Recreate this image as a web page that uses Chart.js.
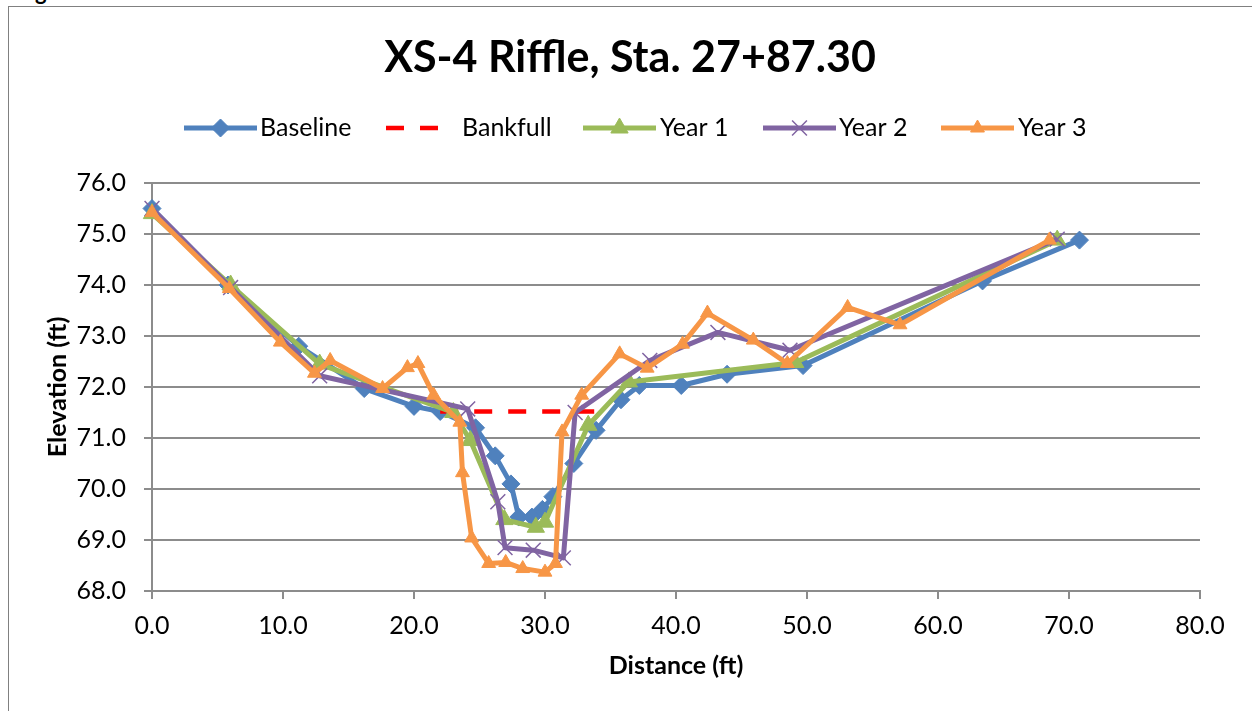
<!DOCTYPE html>
<html>
<head>
<meta charset="utf-8">
<script src="https://cdn.jsdelivr.net/npm/chart.js"></script>
<style>
  html, body { margin: 0; padding: 0; background: #fff; overflow: hidden; }
  #wrap { position: relative; width: 1252px; height: 711px; overflow: hidden; }
  #fig { position: absolute; left: 17px; top: -22px; font: bold 22px Lato, sans-serif; color: #000; }
  #frame { position: absolute; left: 8px; top: 6px; width: 1400px; height: 900px; border: 1px solid #808080; }
  canvas { position: absolute; left: 0; top: 0; }
</style>
</head>
<body>
<div id="wrap">
  <div id="fig">Figure 4</div>
  <div id="frame"></div>
  <canvas id="chart" width="1252" height="711"></canvas>
</div>
<script>
const chartTitle = 'XS-4 Riffle, Sta. 27+87.30';
const seriesNames = ['Baseline', 'Bankfull', 'Year 1', 'Year 2', 'Year 3'];
const xTicks = [0, 10, 20, 30, 40, 50, 60, 70, 80];
const yTicks = [68, 69, 70, 71, 72, 73, 74, 75, 76];

// distance (ft) / elevation (ft)
const baselineX = [0, 5.8, 11.2, 16.2, 20.0, 22.0, 24.7, 26.2, 27.4, 28.0, 29.0, 29.8, 30.6, 32.2, 33.9, 35.8, 37.2, 40.4, 43.9, 49.7, 63.4, 70.8];
const baselineY = [75.5, 74.0, 72.8, 71.97, 71.62, 71.52, 71.2, 70.65, 70.1, 69.45, 69.45, 69.6, 69.85, 70.5, 71.15, 71.75, 72.03, 72.03, 72.25, 72.42, 74.08, 74.88];

const bankfullX = [22.0, 34.3];
const bankfullY = [71.52, 71.52];

const year1X = [0, 6.0, 12.8, 23.0, 24.3, 26.9, 29.3, 30.0, 33.3, 36.4, 49.1, 69.1];
const year1Y = [75.4, 74.0, 72.45, 71.5, 70.95, 69.4, 69.25, 69.35, 71.25, 72.1, 72.48, 74.88];

const year2X = [0, 6.0, 12.8, 24.1, 26.4, 26.95, 29.1, 31.4, 32.3, 38.0, 43.2, 48.7, 69.1];
const year2Y = [75.5, 73.95, 72.22, 71.57, 69.75, 68.85, 68.8, 68.65, 71.5, 72.52, 73.07, 72.72, 74.9];

const year3X = [0, 5.9, 9.8, 12.4, 13.6, 17.6, 19.5, 20.3, 21.5, 23.5, 23.7, 24.4, 25.7, 27.0, 28.3, 30.0, 30.8, 31.3, 32.8, 35.7, 37.8, 40.5, 42.4, 45.9, 48.5, 53.1, 57.1, 68.5];
const year3Y = [75.42, 73.93, 72.88, 72.27, 72.52, 71.97, 72.38, 72.46, 71.84, 71.31, 70.32, 69.04, 68.54, 68.56, 68.44, 68.37, 68.54, 71.12, 71.84, 72.65, 72.37, 72.84, 73.45, 72.92, 72.46, 73.56, 73.22, 74.88];

const pts = (xs, ys) => xs.map((x, i) => ({ x: x, y: ys[i] }));

Chart.defaults.font.family = 'Lato';
Chart.defaults.color = '#000';

const gridColor = '#8c8c8c';

function seriesStyle(color, style, radius, pw) {
    return {
        borderColor: color,
        backgroundColor: color,
        pointBackgroundColor: color,
        pointBorderColor: color,
        pointStyle: style,
        pointRadius: radius,
        pointBorderWidth: pw,
        borderWidth: 5,
        borderJoinStyle: 'round',
        tension: 0,
        clip: false
    };
}

const datasets = [
    Object.assign({ label: seriesNames[0], data: pts(baselineX, baselineY), order: 5 }, seriesStyle('#4f81bd', 'rectRot', 9, 1)),
    { label: seriesNames[1], data: pts(bankfullX, bankfullY), order: 4, borderColor: '#ff0000', backgroundColor: '#ff0000',
      borderWidth: 4.5, borderDash: [18, 16], pointRadius: 0, tension: 0, clip: false },
    Object.assign({ label: seriesNames[2], data: pts(year1X, year1Y), order: 3 }, seriesStyle('#9bbb59', 'triangle', 10, 1)),
    Object.assign({ label: seriesNames[3], data: pts(year2X, year2Y), order: 2 }, seriesStyle('#8064a2', 'crossRot', 10.5, 1.5)),
    Object.assign({ label: seriesNames[4], data: pts(year3X, year3Y), order: 1 }, seriesStyle('#f79646', 'triangle', 8, 1))
];

// title + legend drawn like the Excel header
const headerPlugin = {
    id: 'header',
    afterDraw(chart) {
        const ctx = chart.ctx;
        ctx.save();
        ctx.fillStyle = '#000';
        ctx.font = 'bold 43px Lato';
        ctx.textAlign = 'center';
        ctx.textBaseline = 'alphabetic';
        ctx.fillText(chartTitle, 630, 72);

        const lineSpans = [[184, 257], [386, 441], [583, 656], [763, 836], [941, 1014]];
        const textX = [260, 462, 660, 839, 1018];
        const ly = 128;
        ctx.font = '25px Lato';
        ctx.textAlign = 'left';
        ctx.textBaseline = 'middle';
        chart.data.datasets.forEach((ds, i) => {
            const [a, b] = lineSpans[i];
            ctx.save();
            ctx.strokeStyle = ds.borderColor;
            ctx.lineWidth = ds.borderWidth;
            ctx.setLineDash(ds.borderDash || []);
            ctx.beginPath();
            ctx.moveTo(a, ly);
            ctx.lineTo(b, ly);
            ctx.stroke();
            ctx.restore();
            if (ds.pointRadius > 0 && Chart.helpers && Chart.helpers.drawPoint) {
                ctx.save();
                ctx.fillStyle = ds.pointBackgroundColor;
                ctx.strokeStyle = ds.pointBorderColor;
                ctx.lineWidth = ds.pointBorderWidth;
                Chart.helpers.drawPoint(ctx, { pointStyle: ds.pointStyle, radius: ds.pointRadius, rotation: 0, borderWidth: ds.pointBorderWidth }, (a + b) / 2, ly);
                ctx.restore();
            }
            ctx.fillStyle = '#000';
            ctx.fillText(ds.label, textX[i], ly);
        });
        ctx.restore();
    }
};

new Chart(document.getElementById('chart'), {
    type: 'line',
    data: { datasets: datasets },
    options: {
        responsive: false,
        animation: false,
        layout: { padding: { top: 183, right: 52, left: 0, bottom: 0 } },
        plugins: {
            legend: { display: false },
            title: { display: false },
            tooltip: { enabled: false }
        },
        scales: {
            x: {
                type: 'linear',
                min: xTicks[0],
                max: xTicks[xTicks.length - 1],
                afterBuildTicks: s => { s.ticks = xTicks.map(v => ({ value: v })); },
                afterFit: s => { s.height = 120; },
                ticks: { callback: v => v.toFixed(1), font: { size: 25 }, padding: 12, color: '#000', maxRotation: 0 },
                grid: { drawOnChartArea: false, drawTicks: true, tickLength: 8, color: gridColor, lineWidth: 2 },
                border: { color: gridColor, width: 2 },
                title: { display: true, text: 'Distance (ft)', font: { size: 25, weight: 'bold' }, color: '#000', padding: { top: 0, bottom: 30 } }
            },
            y: {
                type: 'linear',
                min: yTicks[0],
                max: yTicks[yTicks.length - 1],
                afterBuildTicks: s => { s.ticks = yTicks.map(v => ({ value: v })); },
                afterFit: s => { s.width = 152; },
                ticks: { callback: v => v.toFixed(1), font: { size: 25 }, padding: 18, color: '#000' },
                grid: { drawOnChartArea: true, drawTicks: true, tickLength: 8, color: gridColor, lineWidth: 2 },
                border: { color: gridColor, width: 2 },
                title: { display: true, text: 'Elevation (ft)', font: { size: 25, weight: 'bold' }, color: '#000', padding: { top: 43, bottom: 0 } }
            }
        }
    },
    plugins: [headerPlugin]
});
</script>
</body>
</html>
